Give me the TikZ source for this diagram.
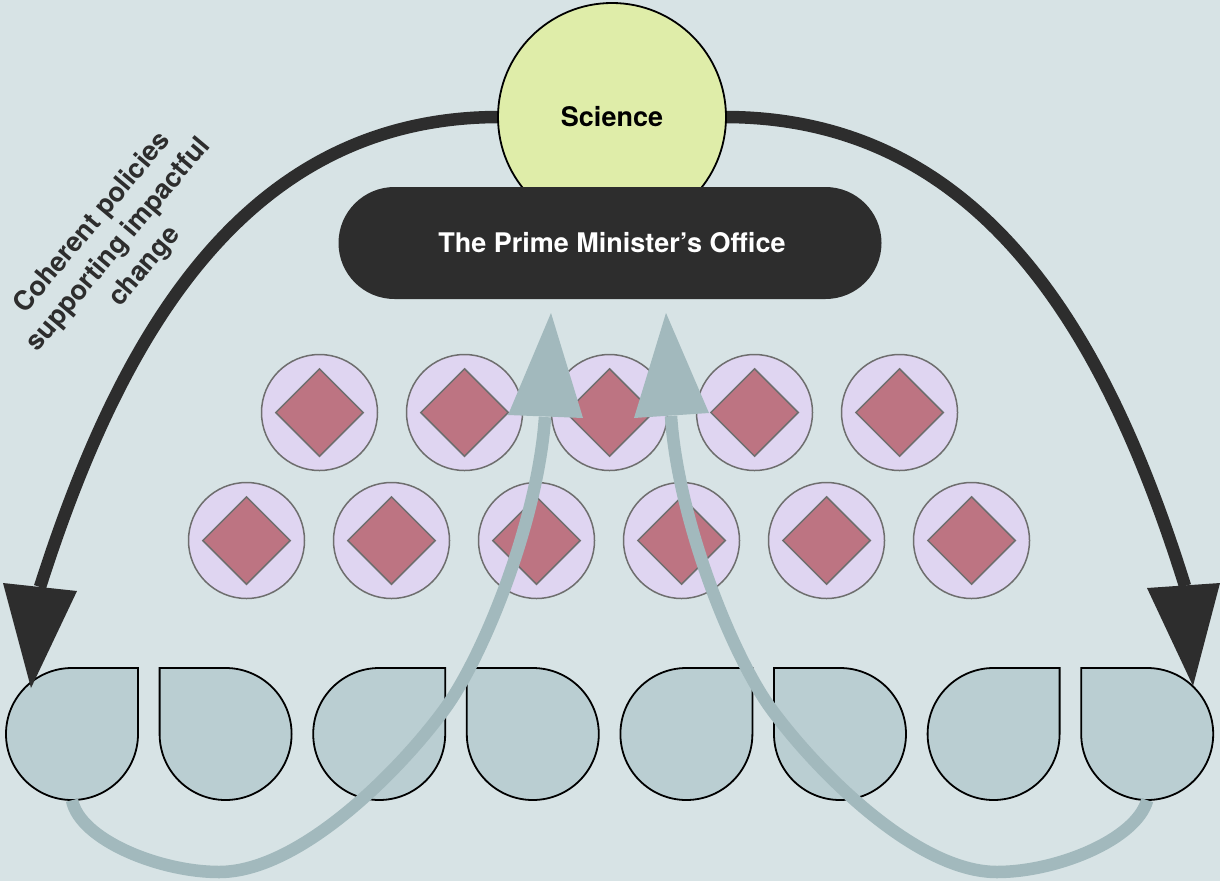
\documentclass[tikz,border=0pt]{standalone}
\usepackage{fontspec}
\setmainfont{TeX Gyre Heros}
\usetikzlibrary{shapes.geometric}
\definecolor{bg}{HTML}{D7E3E5}
\definecolor{ink}{HTML}{2D2D2D}
\definecolor{scifill}{HTML}{DFEDA9}
\definecolor{lav}{HTML}{DFD5F1}
\definecolor{rose}{HTML}{BD7482}
\definecolor{ringline}{HTML}{6E6E6E}
\definecolor{dropfill}{HTML}{BACED2}
\definecolor{flow}{HTML}{A2B9BD}
\newcommand\droptr[2]{%
  \node[anchorspot] (#1) at (#2,734) {};
  \path[drop] (#2+66,734) -- (#2+66,668) -- (#2,668) arc[start angle=270, end angle=0, radius=66] -- cycle;}
\newcommand\droptl[2]{%
  \node[anchorspot] (#1) at (#2,734) {};
  \path[drop] (#2-66,734) -- (#2-66,668) -- (#2,668) arc[start angle=-90, end angle=180, radius=66] -- cycle;}
\begin{document}
\begin{tikzpicture}[x=1pt,y=-1pt,
  lbl/.style={font=\bfseries\fontsize{27}{34}\selectfont},
  ring/.style={circle, draw=ringline, fill=lav, line width=1.5pt, minimum size=116pt, inner sep=0pt},
  gem/.style={diamond, draw=ringline, fill=rose, line width=1.5pt, minimum width=88pt, minimum height=88pt, inner sep=0pt},
  drop/.style={draw=black, fill=dropfill, line width=1.8pt},
  anchorspot/.style={circle, minimum size=132pt, inner sep=0pt},
  policy/.style={draw=ink, line width=12.5pt},
  feedback/.style={draw=flow, line width=12.5pt}]
\fill[bg] (0,0) rectangle (1220,881);
\useasboundingbox (0,0) rectangle (1220,881);

% coordinates for arrow heads
\coordinate (lhb) at (40,587);
\coordinate (ltip) at (31,688);
\coordinate (rhb) at (1185,586);
\coordinate (rtip) at (1193,686);
\coordinate (lgb) at (545,417);
\coordinate (lgtip) at (551,313);
\coordinate (rgb) at (671,416);
\coordinate (rgtip) at (666,313);

% science circle anchors
\coordinate (scic) at (612,117);
\coordinate (sciw) at (498,117);
\coordinate (scie) at (726,117);

% black shafts
\draw[policy] (sciw) .. controls (240,118) and (118,343) .. (lhb);
\draw[policy] (scie) .. controls (987,118) and (1109,343) .. (rhb);

\node[circle, draw=black, fill=scifill, line width=1.8pt, minimum size=228pt, inner sep=0pt, lbl] (sci) at (scic) {Science};

\node[rectangle, rounded corners=56pt, fill=ink, minimum width=543pt, minimum height=112pt, inner sep=0pt, text=white, lbl] (pmo) at (610,243) {\hspace{4pt}The Prime Minister’s Office};

% rings
\foreach \x [count=\i] in {319.5,464.5,609.5,754.5,899.5} {
  \node[ring] (ra\i) at (\x,412.5) {};
  \node[gem] (ga\i) at (ra\i) {};
}
\foreach \x [count=\i] in {246.5,391.5,536.5,681.5,826.5,971.5} {
  \node[ring] (rb\i) at (\x,540.5) {};
  \node[gem] (gb\i) at (rb\i) {};
}

% bottom drops
\droptr{b1}{72}
\droptl{b2}{225.6}
\droptr{b3}{379.2}
\droptl{b4}{532.8}
\droptr{b5}{686.4}
\droptl{b6}{840}
\droptr{b7}{993.6}
\droptl{b8}{1147.2}

% black heads
\fill[ink] (ltip) -- (3,583) -- (77,591) -- cycle;
\fill[ink] (rtip) -- (1147,588) -- (1220,583) -- cycle;

% grey feedback arrows
\draw[feedback] (b1.south) .. controls (80,840) and (160,872) .. (219,872)
  .. controls (300,872) and (400,770) .. (444,710)
  .. controls (484,656) and (538,520) .. (lgb);
\fill[flow] (lgtip) -- (508,415) -- (583,418) -- cycle;
\draw[feedback] (b8.south) .. controls (1136,840) and (1056,872) .. (997,872)
  .. controls (916,872) and (816,770) .. (772,710)
  .. controls (732,656) and (678,520) .. (rgb);
\fill[flow] (rgtip) -- (634,418) -- (709,413) -- cycle;

% label
\node[lbl, text=ink, align=center, rotate=50] (note) at (119,245) {Coherent policies\\supporting impactful\\change};
\end{tikzpicture}
\end{document}
